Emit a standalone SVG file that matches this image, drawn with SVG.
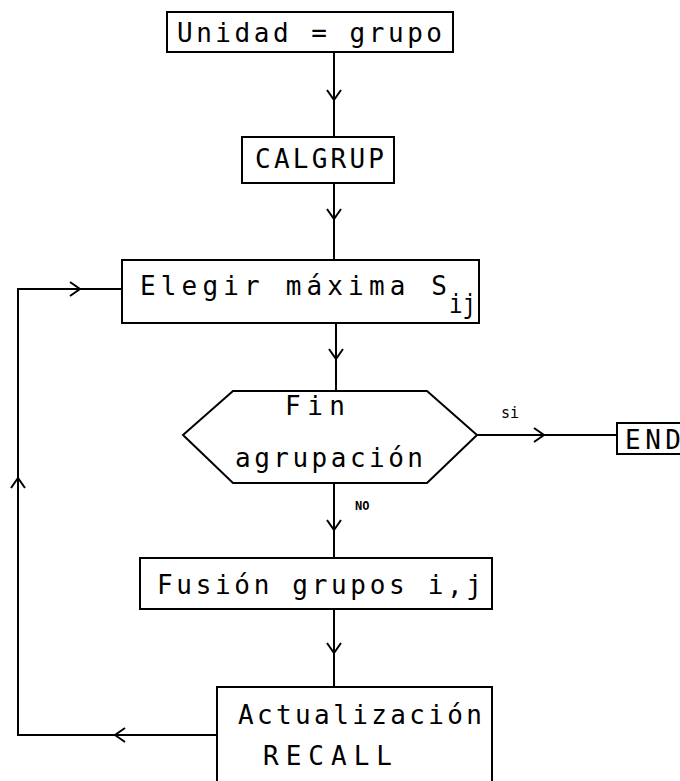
<svg xmlns="http://www.w3.org/2000/svg" width="680" height="781" viewBox="0 0 680 781">
<style>
.box{fill:#fff;stroke:#000;stroke-width:2}
.ln{fill:none;stroke:#000;stroke-width:2}
.t{font-family:"DejaVu Sans Mono","Liberation Mono",monospace;font-size:26px;fill:#000}
.s{font-family:"DejaVu Sans Mono","Liberation Mono",monospace;fill:#000}
</style>
<rect width="680" height="781" fill="#fff"/>
<g id="connectors">
<line class="ln" x1="334" y1="52" x2="334" y2="137"/>
<polyline class="ln" points="327,90 334,100 341,90"/>
<line class="ln" x1="334" y1="183" x2="334" y2="260"/>
<polyline class="ln" points="327,209 334,219 341,209"/>
<line class="ln" x1="336" y1="323" x2="336" y2="391"/>
<polyline class="ln" points="329,349 336,359 343,349"/>
<line class="ln" x1="334" y1="483" x2="334" y2="558"/>
<polyline class="ln" points="327,520 334,530 341,520"/>
<line class="ln" x1="334" y1="609" x2="334" y2="687"/>
<polyline class="ln" points="327,643 334,653 341,643"/>
<line class="ln" x1="477" y1="435" x2="617" y2="435"/>
<polyline class="ln" points="534,428 544,435 534,442"/>
<polyline class="ln" points="217,735 18,735 18,289 122,289"/>
<polyline class="ln" points="125,728 115,735 125,742"/>
<polyline class="ln" points="70,282 80,289 70,296"/>
<polyline class="ln" points="11,488 18,478 25,488"/>
<text class="s" x="501" y="418" font-size="15">si</text>
<text class="s" x="355" y="510" font-size="12" font-weight="bold">NO</text>
</g>
<g id="n1">
<rect class="box" x="167" y="12" width="286" height="40"/>
<text class="t" x="177" y="42" textLength="265" lengthAdjust="spacing">Unidad = grupo</text>
</g>
<g id="n2">
<rect class="box" x="242" y="137" width="152" height="46"/>
<text class="t" x="255" y="168" textLength="129" lengthAdjust="spacing">CALGRUP</text>
</g>
<g id="n3">
<rect class="box" x="122" y="260" width="357" height="63"/>
<text class="t" x="140" y="295" textLength="307" lengthAdjust="spacing">Elegir máxima  S</text>
<text class="t" x="449" y="313" textLength="27" lengthAdjust="spacingAndGlyphs">ij</text>
</g>
<g id="n4">
<polygon class="box" points="183,435 233,391 427,391 477,435 427,483 233,483"/>
<text class="t" x="285" y="415" textLength="60" lengthAdjust="spacing">Fin</text>
<text class="t" x="235" y="467" textLength="188" lengthAdjust="spacing">agrupación</text>
</g>
<g id="n5">
<rect class="box" x="617" y="423" width="70" height="31"/>
<text class="t" x="625" y="449" textLength="56" lengthAdjust="spacing">END</text>
</g>
<g id="n6">
<rect class="box" x="140" y="558" width="352" height="51"/>
<text class="t" x="157" y="594" textLength="325" lengthAdjust="spacing">Fusión grupos i,j</text>
</g>
<g id="n7">
<rect class="box" x="217" y="687" width="275" height="100"/>
<text class="t" x="238" y="724" textLength="244" lengthAdjust="spacing">Actualización</text>
<text class="t" x="263" y="765" textLength="129" lengthAdjust="spacing">RECALL</text>
</g>
</svg>
